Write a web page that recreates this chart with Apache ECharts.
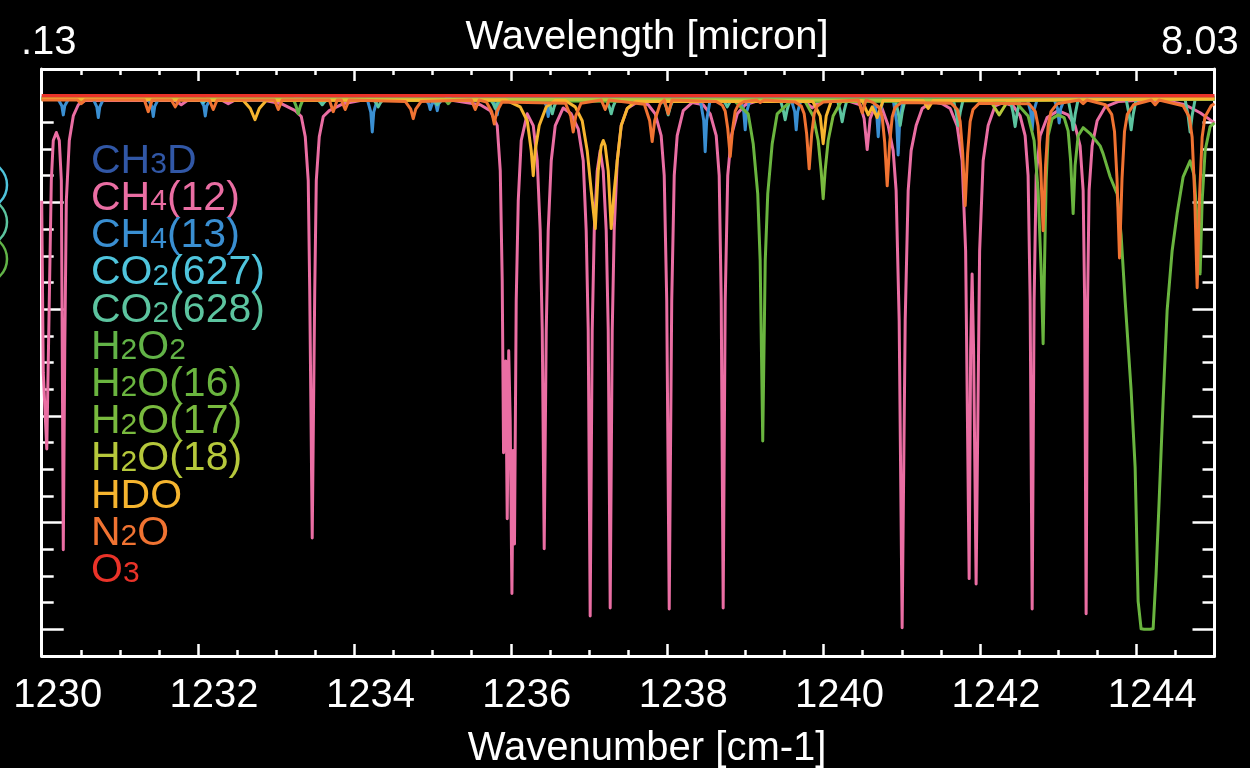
<!DOCTYPE html>
<html>
<head>
<meta charset="utf-8">
<script src="https://cdn.jsdelivr.net/npm/echarts@6.0.0/dist/echarts.min.js"></script>
<style>
  html, body { margin: 0; padding: 0; background: #000; }
  #chart { width: 1250px; height: 768px; }
</style>
</head>
<body>
<div id="chart"></div>
<script>
// ---------------- data ----------------
const speciesNames = ['CH3D','CH4(12)','CH4(13)','CO2(627)','CO2(628)','H2O2','H2O(16)','H2O(17)','H2O(18)','HDO','N2O','O3'];
const xMajorTicks = [1230,1232,1234,1236,1238,1240,1242,1244];
const yMajorTicks = [0,0.2,0.4,0.6,0.8,1.0];
const topEndLabels = ['.13','8.03'];
const xAxisTitle = 'Wavenumber [cm-1]';
const topAxisTitle = 'Wavelength [micron]';

// transmittance vs wavenumber [cm-1, T]
const ch3d = [[1230,0.997],[1245,0.997]];

const ch4_12 = [
[1230.000,0.803],[1230.020,0.481],[1230.065,0.338],[1230.097,0.616],[1230.123,0.841],[1230.148,0.916],[1230.187,0.931],[1230.225,0.916],[1230.251,0.841],[1230.263,0.522],[1230.276,0.149],[1230.295,0.522],[1230.315,0.803],[1230.353,0.916],[1230.404,0.962],[1230.468,0.983],[1230.558,0.991],
[1231.708,0.991],[1231.785,0.983],[1231.862,0.991],
[1232.310,0.991],[1232.386,0.985],[1232.463,0.991],
[1232.859,0.991],[1233.064,0.985],[1233.243,0.972],[1233.320,0.961],[1233.371,0.923],[1233.409,0.841],[1233.428,0.634],[1233.460,0.171],[1233.492,0.634],[1233.512,0.841],[1233.550,0.923],[1233.601,0.961],[1233.678,0.972],[1233.857,0.985],[1234.074,0.991],
[1235.264,0.991],[1235.609,0.983],[1235.737,0.972],[1235.826,0.944],[1235.865,0.859],[1235.890,0.653],[1235.907,0.331],[1235.925,0.466],[1235.935,0.503],[1235.954,0.207],[1235.973,0.522],[1235.992,0.391],[1236.014,0.067],[1236.031,0.335],[1236.047,0.160],[1236.069,0.616],[1236.095,0.803],[1236.133,0.916],[1236.210,0.966],[1236.287,0.944],[1236.338,0.878],[1236.376,0.747],[1236.402,0.560],[1236.427,0.151],[1236.453,0.560],[1236.478,0.747],[1236.517,0.878],[1236.568,0.944],[1236.670,0.977],[1236.772,0.966],[1236.862,0.938],[1236.926,0.878],[1236.964,0.747],[1236.990,0.560],[1237.015,0.025],[1237.041,0.560],[1237.067,0.747],[1237.105,0.859],[1237.143,0.897],[1237.182,0.859],[1237.220,0.747],[1237.246,0.560],[1237.271,0.040],[1237.297,0.560],[1237.322,0.747],[1237.361,0.878],[1237.412,0.944],[1237.489,0.976],[1237.629,0.989],
[1237.757,0.983],[1237.847,0.966],[1237.923,0.925],[1237.962,0.850],[1237.994,0.616],[1238.026,0.038],[1238.058,0.616],[1238.090,0.850],[1238.128,0.925],[1238.205,0.972],[1238.320,0.987],
[1238.460,0.983],[1238.550,0.966],[1238.627,0.925],[1238.665,0.850],[1238.691,0.616],[1238.716,0.040],[1238.742,0.616],[1238.774,0.850],[1238.821,0.925],[1238.896,0.966],[1238.998,0.983],[1239.126,0.989],
[1239.573,0.991],[1239.765,0.989],[1239.855,0.977],[1239.944,0.989],[1240.340,0.989],
[1240.468,0.983],[1240.519,0.957],[1240.558,0.899],[1240.596,0.957],[1240.660,0.981],
[1240.749,0.976],[1240.826,0.944],[1240.890,0.897],[1240.928,0.822],[1240.967,0.578],[1241.005,0.003],[1241.044,0.578],[1241.082,0.822],[1241.120,0.897],[1241.184,0.944],[1241.261,0.976],[1241.389,0.989],
[1241.517,0.985],[1241.619,0.976],[1241.708,0.944],[1241.772,0.878],[1241.817,0.709],[1241.862,0.095],[1241.881,0.522],[1241.900,0.666],[1241.919,0.522],[1241.951,0.085],[1241.996,0.709],[1242.041,0.878],[1242.105,0.944],[1242.194,0.981],[1242.297,0.987],
[1242.425,0.981],[1242.514,0.962],[1242.578,0.925],[1242.616,0.850],[1242.642,0.616],[1242.668,0.038],[1242.693,0.616],[1242.719,0.850],[1242.770,0.925],[1242.859,0.959],[1243.000,0.972],
[1243.128,0.964],[1243.217,0.944],[1243.281,0.906],[1243.320,0.822],[1243.339,0.616],[1243.358,0.029],[1243.377,0.616],[1243.396,0.822],[1243.435,0.906],[1243.499,0.953],[1243.601,0.979],[1243.767,0.989],
[1243.985,0.991],[1244.368,0.991],[1244.624,0.983],[1244.816,0.968],[1245.000,0.949]
];

const ch4_13 = [
[1230.000,0.993],
[1230.212,0.993],[1230.257,0.981],[1230.276,0.964],[1230.295,0.981],[1230.340,0.993],
[1230.660,0.993],[1230.705,0.979],[1230.724,0.959],[1230.743,0.979],[1230.788,0.993],
[1231.363,0.993],[1231.408,0.980],[1231.427,0.961],[1231.446,0.980],[1231.491,0.993],
[1232.028,0.993],[1232.073,0.981],[1232.092,0.962],[1232.111,0.981],[1232.156,0.993],
[1234.164,0.993],[1234.209,0.969],[1234.228,0.932],[1234.247,0.969],[1234.292,0.993],
[1234.905,0.993],[1234.950,0.985],[1234.969,0.974],[1235.000,0.988],[1235.040,0.985],[1235.059,0.972],[1235.078,0.985],[1235.123,0.993],
[1235.762,0.993],[1235.807,0.981],[1235.826,0.964],[1235.845,0.981],[1235.890,0.993],
[1236.414,0.993],[1236.459,0.980],[1236.478,0.961],[1236.497,0.980],[1236.542,0.993],
[1238.422,0.993],[1238.467,0.954],[1238.486,0.895],[1238.505,0.954],[1238.550,0.993],
[1238.934,0.993],[1238.979,0.970],[1238.998,0.936],[1239.017,0.970],[1239.062,0.993],
[1239.586,0.993],[1239.631,0.970],[1239.650,0.936],[1239.669,0.970],[1239.714,0.993],
[1240.635,0.993],[1240.680,0.965],[1240.699,0.923],[1240.718,0.965],[1240.763,0.993],
[1240.890,0.993],[1240.935,0.951],[1240.954,0.889],[1240.973,0.951],[1241.018,0.993],
[1242.604,0.993],[1242.649,0.970],[1242.668,0.936],[1242.687,0.970],[1242.732,0.993],
[1242.949,0.993],[1242.994,0.975],[1243.013,0.949],[1243.032,0.975],[1243.077,0.993],
[1245.000,0.993]
];

const co2_627 = [[1230,0.995],[1232.017,0.995],[1232.067,0.987],[1232.117,0.995],[1245,0.995]];

const co2_628 = [
[1230.000,0.993],
[1233.524,0.993],[1233.562,0.988],[1233.588,0.983],[1233.614,0.988],[1233.652,0.993],
[1234.240,0.993],[1234.278,0.986],[1234.304,0.979],[1234.330,0.986],[1234.368,0.993],
[1234.995,0.993],[1235.033,0.988],[1235.059,0.983],[1235.085,0.988],[1235.123,0.993],
[1235.737,0.993],[1235.775,0.985],[1235.801,0.976],[1235.827,0.985],[1235.865,0.993],
[1236.466,0.993],[1236.504,0.980],[1236.530,0.966],[1236.556,0.980],[1236.594,0.993],
[1237.220,0.993],[1237.258,0.980],[1237.284,0.966],[1237.310,0.980],[1237.348,0.993],
[1237.949,0.993],[1237.987,0.979],[1238.013,0.964],[1238.039,0.979],[1238.077,0.993],
[1238.704,0.993],[1238.742,0.986],[1238.768,0.979],[1238.794,0.986],[1238.832,0.993],
[1239.445,0.993],[1239.483,0.974],[1239.509,0.955],[1239.535,0.974],[1239.573,0.993],
[1240.174,0.993],[1240.212,0.972],[1240.238,0.951],[1240.264,0.972],[1240.302,0.993],
[1240.916,0.993],[1240.954,0.969],[1240.980,0.944],[1241.006,0.969],[1241.044,0.993],
[1241.658,0.993],[1241.696,0.969],[1241.722,0.944],[1241.748,0.969],[1241.786,0.993],
[1242.386,0.993],[1242.424,0.968],[1242.450,0.942],[1242.476,0.968],[1242.514,0.993],
[1243.128,0.993],[1243.166,0.965],[1243.192,0.936],[1243.218,0.965],[1243.256,0.993],
[1243.870,0.993],[1243.908,0.965],[1243.934,0.936],[1243.960,0.965],[1243.998,0.993],
[1244.624,0.993],[1244.662,0.963],[1244.688,0.932],[1244.714,0.963],[1244.752,0.993],
[1245.000,0.993]
];

const h2o2 = [
[1230,0.994],
[1233.217,0.994],[1233.255,0.980],[1233.281,0.966],[1233.307,0.980],[1233.345,0.994],
[1235.150,0.994],[1235.200,0.985],[1235.250,0.994],
[1245,0.994]
];

const h2o_16 = [
[1230.000,0.994],
[1238.870,0.989],[1239.036,0.966],[1239.100,0.910],[1239.158,0.816],[1239.189,0.691],[1239.222,0.353],[1239.254,0.691],[1239.286,0.816],[1239.343,0.910],[1239.407,0.966],[1239.573,0.989],
[1242.258,0.991],[1242.476,0.985],[1242.616,0.962],[1242.693,0.916],[1242.744,0.822],[1242.783,0.672],[1242.808,0.535],[1242.827,0.691],[1242.847,0.841],[1242.872,0.925],[1242.923,0.957],[1243.000,0.964],[1243.077,0.959],[1243.128,0.934],[1243.160,0.878],[1243.192,0.779],[1243.217,0.869],[1243.256,0.925],[1243.320,0.940],
[1243.409,0.929],[1243.537,0.906],[1243.576,0.891],[1243.665,0.848],[1243.755,0.816],[1243.806,0.738],[1243.857,0.616],[1243.934,0.447],[1243.985,0.303],[1244.023,0.053],[1244.061,0.001],[1244.100,0.000],[1244.138,0.000],[1244.176,0.000],[1244.215,0.001],[1244.253,0.104],[1244.292,0.241],[1244.343,0.428],[1244.394,0.597],[1244.458,0.709],[1244.522,0.779],[1244.599,0.848],[1244.688,0.878],
[1244.740,0.850],[1244.778,0.766],[1244.816,0.666],[1244.842,0.803],[1244.880,0.897],[1244.944,0.942],[1245.000,0.949]
];

const h2o_17 = [
[1230,0.994],
[1239.765,0.989],[1239.867,0.962],[1239.931,0.916],[1239.969,0.859],[1239.995,0.807],[1240.020,0.859],[1240.059,0.916],[1240.122,0.962],[1240.225,0.989],
[1245,0.994]
];

const h2o_18 = [
[1230,0.995],
[1242.131,0.991],[1242.195,0.976],[1242.246,0.964],[1242.297,0.976],[1242.361,0.991],
[1245,0.995]
];

const hdo = [
[1230.000,0.994],
[1232.578,0.991],[1232.668,0.976],[1232.728,0.955],[1232.783,0.976],[1232.872,0.991],
[1235.929,0.992],[1236.120,0.979],[1236.210,0.953],[1236.261,0.897],[1236.287,0.850],[1236.312,0.897],[1236.363,0.944],[1236.453,0.979],[1236.568,0.991],
[1236.696,0.991],[1236.824,0.979],[1236.913,0.953],[1236.977,0.897],[1237.028,0.822],[1237.080,0.751],[1237.118,0.859],[1237.156,0.906],[1237.182,0.916],[1237.207,0.906],[1237.246,0.859],[1237.284,0.751],[1237.323,0.822],[1237.361,0.878],[1237.412,0.944],[1237.489,0.976],[1237.591,0.989],
[1239.863,0.989],[1239.957,0.962],[1239.995,0.910],[1240.034,0.962],[1240.097,0.989],
[1240.494,0.991],[1240.571,0.964],[1240.622,0.979],[1240.686,0.959],[1240.762,0.991],
[1241.274,0.991],[1241.338,0.976],[1241.402,0.991],
[1245.000,0.994]
];

const n2o = [
[1230.000,0.992],
[1230.456,0.992],[1230.506,0.985],[1230.556,0.992],
[1231.313,0.992],[1231.363,0.970],[1231.413,0.992],
[1231.658,0.992],[1231.708,0.979],[1231.758,0.992],
[1232.144,0.992],[1232.194,0.974],[1232.244,0.992],
[1232.976,0.992],[1233.026,0.974],[1233.076,0.992],
[1233.679,0.992],[1233.729,0.970],[1233.779,0.992],
[1233.832,0.992],[1233.882,0.974],[1233.932,0.992],
[1234.652,0.989],[1234.720,0.975],[1234.752,0.957],[1234.784,0.975],[1234.852,0.989],
[1235.495,0.992],[1235.545,0.974],[1235.595,0.992],
[1235.688,0.988],[1235.756,0.970],[1235.788,0.947],[1235.820,0.970],[1235.888,0.988],
[1236.698,0.986],[1236.766,0.962],[1236.798,0.932],[1236.830,0.962],[1236.898,0.986],
[1237.157,0.992],[1237.207,0.974],[1237.257,0.992],
[1237.708,0.984],[1237.776,0.953],[1237.808,0.914],[1237.840,0.953],[1237.908,0.984],
[1237.963,0.992],[1238.013,0.966],[1238.063,0.992],
[1238.626,0.989],[1238.706,0.982],[1238.742,0.971],[1238.774,0.939],[1238.806,0.886],[1238.838,0.939],[1238.870,0.971],[1238.906,0.982],[1238.986,0.989],
[1239.140,0.992],[1239.190,0.987],[1239.240,0.992],
[1239.636,0.988],[1239.716,0.980],[1239.752,0.966],[1239.784,0.928],[1239.816,0.863],[1239.848,0.928],[1239.880,0.966],[1239.916,0.980],[1239.996,0.988],
[1240.444,0.992],[1240.494,0.968],[1240.544,0.992],
[1240.634,0.987],[1240.714,0.978],[1240.750,0.960],[1240.782,0.912],[1240.814,0.831],[1240.846,0.912],[1240.878,0.960],[1240.914,0.978],[1240.994,0.987],
[1241.631,0.986],[1241.711,0.974],[1241.747,0.952],[1241.779,0.893],[1241.811,0.794],[1241.843,0.893],[1241.875,0.952],[1241.911,0.974],[1241.991,0.986],
[1242.628,0.985],[1242.708,0.970],[1242.744,0.943],[1242.776,0.870],[1242.808,0.747],[1242.840,0.870],[1242.872,0.943],[1242.908,0.970],[1242.988,0.985],
[1243.270,0.992],[1243.320,0.985],[1243.370,0.992],
[1243.605,0.983],[1243.685,0.965],[1243.721,0.933],[1243.753,0.844],[1243.785,0.696],[1243.817,0.844],[1243.849,0.933],[1243.885,0.965],[1243.965,0.983],
[1244.191,0.992],[1244.241,0.983],[1244.291,0.992],
[1244.598,0.981],[1244.678,0.960],[1244.714,0.922],[1244.746,0.816],[1244.778,0.640],[1244.810,0.816],[1244.842,0.922],[1244.878,0.960],[1244.958,0.981],
[1245.000,0.985]
];

const o3 = [[1230,1.0],[1245,1.0]];

const seriesData = [ch3d, ch4_12, ch4_13, co2_627, co2_628, h2o2, h2o_16, h2o_17, h2o_18, hdo, n2o, o3];

// ---------------- style ----------------
const speciesColors = ['#3157a6','#ea6ea3','#3a8fd2','#4fc4dc','#5cc49f','#62b347','#6ab53f','#79ba3e','#b6c83b','#f6b52f','#f07332','#ea3329'];
const FONT = '"Liberation Sans", Arial, Helvetica, sans-serif';
const WHITE = '#ffffff';

function axisBase(extra) {
  return Object.assign({
    type: 'value',
    splitLine: { show: false },
    axisLabel: { show: false },
    axisLine: { show: false, onZero: false },
    silent: true
  }, extra);
}
const tickStyle = { color: WHITE, width: 2.5 };
const lineStyleAxis = { color: WHITE, width: 3 };

const option = {
  backgroundColor: '#000000',
  animation: false,
  grid: { left: 41.7, right: 35.5, top: 69, bottom: 112, containLabel: false, outerBoundsMode: 'none' },
  xAxis: [
    axisBase({ min: 1230, max: 1245, interval: 0.5, position: 'bottom',
      axisLine: { show: true, onZero: false, lineStyle: lineStyleAxis },
      axisTick: { show: true, inside: true, length: 6, lineStyle: tickStyle },
      axisLabel: { show: true, customValues: xMajorTicks, formatter: v => String(v), color: WHITE, fontSize: 40, fontFamily: FONT, margin: 20, padding: [0, 0, 0, 32] },
      name: xAxisTitle, nameLocation: 'middle', nameGap: 73,
      nameTextStyle: { color: WHITE, fontSize: 40, fontFamily: FONT, padding: [0, 0, 0, 38] }
    }),
    axisBase({ min: 1230, max: 1245, position: 'bottom',
      axisLine: { show: false, onZero: false },
      axisTick: { show: true, inside: true, length: 12, customValues: xMajorTicks, lineStyle: tickStyle }
    }),
    axisBase({ min: 1230, max: 1245, interval: 0.5, position: 'top',
      axisLine: { show: true, onZero: false, lineStyle: lineStyleAxis },
      axisTick: { show: true, inside: true, length: 6, lineStyle: tickStyle },
      name: topAxisTitle, nameLocation: 'middle', nameGap: 11,
      nameTextStyle: { color: WHITE, fontSize: 40, fontFamily: FONT, padding: [0, 0, 0, 38] }
    }),
    axisBase({ min: 1230, max: 1245, position: 'top',
      axisLine: { show: false, onZero: false },
      axisTick: { show: true, inside: true, length: 12, customValues: xMajorTicks, lineStyle: tickStyle }
    })
  ],
  yAxis: [
    axisBase({ min: -0.05, max: 1.05, interval: 0.05, position: 'left',
      axisLine: { show: true, onZero: false, lineStyle: lineStyleAxis },
      axisTick: { show: true, inside: true, length: 12, lineStyle: tickStyle }
    }),
    axisBase({ min: -0.05, max: 1.05, position: 'left',
      axisLine: { show: false, onZero: false },
      axisTick: { show: true, inside: true, length: 22, customValues: yMajorTicks, lineStyle: tickStyle }
    }),
    axisBase({ min: -0.05, max: 1.05, interval: 0.05, position: 'right',
      axisLine: { show: true, onZero: false, lineStyle: lineStyleAxis },
      axisTick: { show: true, inside: true, length: 12, lineStyle: tickStyle }
    }),
    axisBase({ min: -0.05, max: 1.05, position: 'right',
      axisLine: { show: false, onZero: false },
      axisTick: { show: true, inside: true, length: 22, customValues: yMajorTicks, lineStyle: tickStyle }
    })
  ],
  legend: {
    show: true,
    orient: 'vertical',
    left: 86,
    top: 141,
    padding: 0,
    itemGap: -3.8,
    itemWidth: 0,
    itemHeight: 0,
    icon: 'rect',
    selectedMode: false,
    data: speciesNames.map((n, i) => ({ name: n, textStyle: { color: speciesColors[i] } })),
    formatter: function (n) {
      return '{a|' + n.replace(/([A-Za-z])(\d+)/g, '$1}{s|$2}{a|') + '}';
    },
    textStyle: {
      fontFamily: FONT, fontSize: 41, lineHeight: 37,
      rich: {
        a: { fontFamily: FONT, fontSize: 41, lineHeight: 37 },
        s: { fontFamily: FONT, fontSize: 30, lineHeight: 28, verticalAlign: 'bottom' }
      }
    }
  },
  graphic: [
    { type: 'text', left: 21, top: 23, silent: true,
      style: { text: topEndLabels[0], fill: WHITE, font: '40px ' + FONT } },
    { type: 'text', left: 1161, top: 23, silent: true,
      style: { text: topEndLabels[1], fill: WHITE, font: '40px ' + FONT } },
    { type: 'circle', silent: true, shape: { cx: -17, cy: 185, r: 24 }, style: { fill: 'none', stroke: speciesColors[3], lineWidth: 2.5 } },
    { type: 'circle', silent: true, shape: { cx: -17, cy: 222, r: 24 }, style: { fill: 'none', stroke: speciesColors[4], lineWidth: 2.5 } },
    { type: 'circle', silent: true, shape: { cx: -17, cy: 259, r: 24 }, style: { fill: 'none', stroke: speciesColors[5], lineWidth: 2.5 } }
  ],
  series: speciesNames.map((n, i) => ({
    name: n,
    type: 'line',
    xAxisIndex: 0,
    yAxisIndex: 0,
    data: seriesData[i],
    showSymbol: false,
    symbol: 'none',
    silent: true,
    clip: true,
    itemStyle: { color: speciesColors[i] },
    lineStyle: { color: speciesColors[i], width: n === 'O3' ? 3.5 : 3, join: 'round' },
    emphasis: { disabled: true }
  }))
};

const chart = echarts.init(document.getElementById('chart'), null, { renderer: 'canvas' });
chart.setOption(option);
</script>
</body>
</html>
